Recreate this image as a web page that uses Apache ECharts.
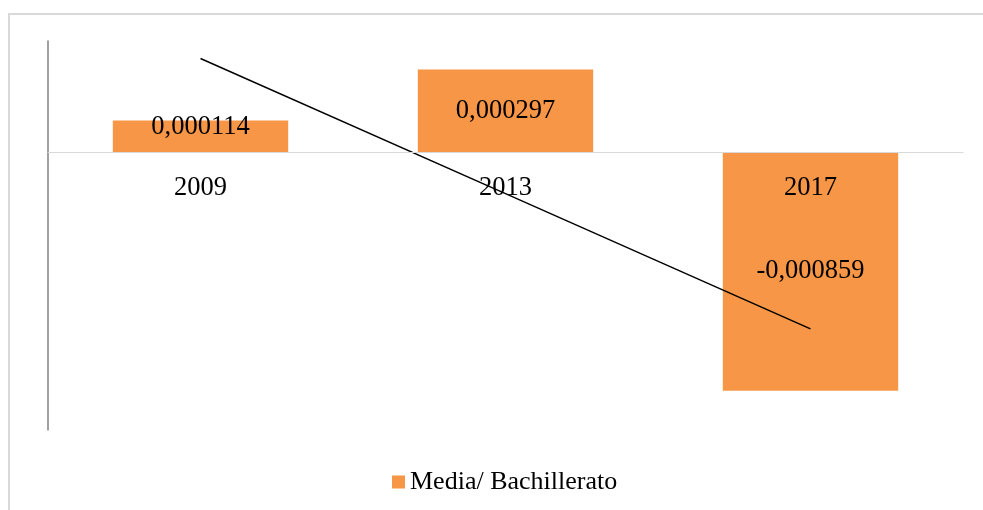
<!DOCTYPE html>
<html>
<head>
<meta charset="utf-8">
<script src="https://cdn.jsdelivr.net/npm/echarts@6/dist/echarts.min.js"></script>
<style>
  html, body { margin: 0; padding: 0; background: #fff; }
  #chart { width: 983px; height: 510px; }
</style>
</head>
<body>
<div id="chart"></div>
<script>
const years = ['2009', '2013', '2017']
const seriesName = 'Media/ Bachillerato'
const values = [0.000114, 0.000297, -0.000859]

// linear trendline (least squares), like the spreadsheet one
function linearTrend(ys) {
  const n = ys.length
  const xs = ys.map((_, i) => i + 1)
  const mx = xs.reduce((a, b) => a + b, 0) / n
  const my = ys.reduce((a, b) => a + b, 0) / n
  let num = 0
  let den = 0
  xs.forEach((x, i) => {
    num += (x - mx) * (ys[i] - my)
    den += (x - mx) * (x - mx)
  })
  const slope = num / den
  return xs.map(x => my + slope * (x - mx))
}

const serif = '"Liberation Serif", "Times New Roman", serif'
const fmt = v => v.toFixed(6).replace('.', ',')

const chart = echarts.init(document.getElementById('chart'))
chart.setOption({
  animation: false,
  textStyle: { fontFamily: serif },
  graphic: [{
    type: 'rect',
    shape: { x: 9, y: 14, width: 1000, height: 520 },
    style: { fill: 'none', stroke: '#d9d9d9', lineWidth: 2 },
    silent: true
  }],
  grid: { left: 48, right: 20, top: 41, bottom: 80 },
  legend: {
    data: [seriesName],
    icon: 'rect',
    left: 387,
    top: 464,
    itemWidth: 13,
    itemHeight: 13,
    itemGap: 6,
    textStyle: { fontFamily: serif, fontSize: 26, color: '#000' }
  },
  xAxis: {
    type: 'category',
    data: years,
    z: 10,
    offset: -278,
    axisLine: { onZero: false, lineStyle: { color: '#d9d9d9', width: 1 } },
    axisTick: { show: false },
    axisLabel: { fontFamily: serif, fontSize: 26.5, color: '#000', margin: 23 }
  },
  yAxis: {
    type: 'value',
    min: -0.001,
    max: 0.0004,
    interval: 0.0002,
    axisLine: { show: true, lineStyle: { color: '#808080', width: 1.5 } },
    axisTick: { show: false },
    axisLabel: { show: false },
    splitLine: { show: false }
  },
  series: [
    {
      name: seriesName,
      type: 'bar',
      barWidth: '57.5%',
      itemStyle: { color: '#f79646' },
      label: {
        show: true,
        position: 'inside',
        fontFamily: serif,
        fontSize: 26.5,
        color: '#000',
        formatter: p => fmt(p.value)
      },
      data: values.map((v, i) => ({
        value: v,
        label: i === 0 ? { offset: [0, -9] } : {}
      }))
    },
    {
      name: 'trend',
      type: 'line',
      symbol: 'none',
      z: 5,
      lineStyle: { color: '#000', width: 1.5 },
      data: linearTrend(values)
    }
  ]
})
</script>
</body>
</html>
